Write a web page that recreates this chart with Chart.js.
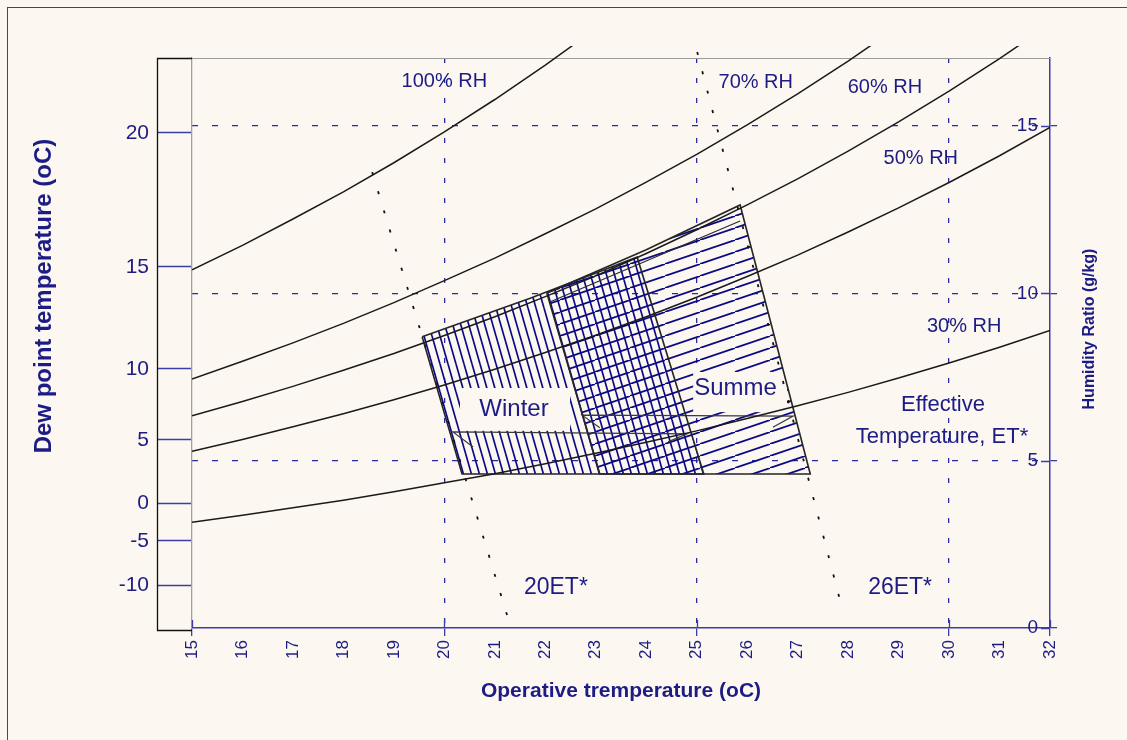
<!DOCTYPE html>
<html>
<head>
<meta charset="utf-8">
<title>Comfort zones</title>
<script src="https://cdn.jsdelivr.net/npm/chart.js@4.4.1/dist/chart.umd.min.js"></script>
<style>
  html, body { margin: 0; padding: 0; background: #fcf7f0; overflow: hidden; }
  #wrap { position: relative; width: 1127px; height: 740px; }
  #edge { position: absolute; left: 7px; top: 7px; width: 1200px; height: 800px; border: 1px solid #3c3cb0; }
  canvas { position: absolute; left: 0; top: 0; }
</style>
</head>
<body>
<div id="wrap">
  <div id="edge"></div>
  <canvas id="psy" width="1127" height="740"></canvas>
</div>
<script>
// operative temperature (oC), one sample per degree
const temps = [15, 16, 17, 18, 19, 20, 21, 22, 23, 24, 25, 26, 27, 28, 29, 30, 31, 32];

// humidity ratio (g/kg) along the relative humidity curves
const rh100 = [10.70, 11.43, 12.22, 13.03, 13.90, 14.82, 15.79, 16.82, 17.90, null, null, null, null, null, null, null, null, null];
const rh70 = [7.44, 7.97, 8.52, 9.10, 9.72, 10.38, 11.05, 11.78, 12.52, 13.32, 14.15, 15.03, 15.96, 16.94, 17.97, null, null, null];
const rh60 = [6.34, 6.77, 7.22, 7.70, 8.20, 8.74, 9.30, 9.90, 10.52, 11.19, 11.90, 12.64, 13.42, 14.25, 15.12, 16.04, 17.01, 18.04];
const rh50 = [5.28, 5.63, 6.01, 6.40, 6.82, 7.26, 7.73, 8.23, 8.75, 9.30, 9.88, 10.50, 11.14, 11.83, 12.55, 13.31, 14.11, 14.96];
const rh30 = [3.16, 3.37, 3.59, 3.82, 4.07, 4.34, 4.61, 4.91, 5.22, 5.55, 5.89, 6.26, 6.64, 7.04, 7.47, 7.92, 8.39, 8.89];

// dew point scale on the left, placed at its humidity ratio
const dewTickW = [14.79, 10.79, 7.74, 5.62, 3.73, 2.60, 1.28];
const dewTickLabels = ['20', '15', '10', '5', '0', '-5', '-10'];

const ratioTicks = [0, 5, 10, 15];
const tempGridLines = [20, 25, 30];
const tempMajorTicks = [15, 20, 25, 30, 32];

// comfort zones, corners as (T, W), closed
const winterT = [19.56, 21.7, 23.82, 25.14, 20.35, 19.56];
const winterW = [8.70, 9.85, 11.08, 4.60, 4.60, 8.70];
const summerT = [22.03, 24.0, 25.86, 27.25, 23.08, 22.03];
const summerW = [10.01, 11.3, 12.64, 4.60, 4.60, 10.01];

// effective temperature lines
const et20T = [18.57, 21.32];
const et20W = [13.62, 0];
const et26T = [25.01, 27.90];
const et26W = [17.21, 0.48];

// inner lines of the zones
const summerInnerT = [22.09, 25.86];
const summerInnerW = [9.74, 12.16];
const winterArrowT = [20.57, 20.17, 24.81, 24.43];
const winterArrowW = [5.41, 5.86, 5.80, 5.56];
const summerArrowT = [23.08, 22.73, 26.91, 26.51];
const summerArrowW = [5.98, 6.36, 6.33, 6.00];

// curve names
const rhNames = ['100% RH', '70% RH', '60% RH', '50% RH', '30% RH'];
const rhNameT = [20.00, 26.17, 28.73, 29.44, 30.30];
const rhNameW = [16.34, 16.31, 16.16, 14.04, 9.02];
const etNames = ['20ET*', '26ET*'];
const etNameT = [22.21, 29.03];
const etNameW = [1.22, 1.20];
const noteLines = ['Effective', 'Temperature, ET*'];
const noteT = [29.88, 29.86];
const noteW = [6.66, 5.71];

// zone names with the blank panel behind them
const zoneNames = ['Winter', 'Summe'];
const zoneNameT = [21.38, 25.77];
const zoneNameW = [6.54, 7.17];
const zoneBoxT = [[20.31, 22.49], [24.93, 26.79]];
const zoneBoxW = [[7.17, 5.89], [7.65, 6.45]];

const FONT = '"Liberation Sans", Arial, sans-serif';
const NAVY = '#1c1c84';
const AXIS = '#3d3da8';
const GRID = '#2a2a9e';
const INK = '#1a1a1a';
const PAPER = '#fcf7f0';
const CLEAR = 'rgba(0,0,0,0)';
const STRIP = 35; // width of the dew point strip

const pts = (xs, ys) => xs.map((x, i) => ({ x, y: ys[i] })).filter(p => p.y !== null);

function hatch(w, h, rising) {
  const c = document.createElement('canvas');
  c.width = w;
  c.height = h;
  const g = c.getContext('2d');
  g.strokeStyle = '#0a0a84';
  g.lineWidth = 1.7;
  for (const dx of [-w, 0, w]) {
    g.beginPath();
    if (rising) {
      g.moveTo(dx, h);
      g.lineTo(dx + w, 0);
    } else {
      g.moveTo(dx, 0);
      g.lineTo(dx + w, h);
    }
    g.stroke();
  }
  return g.createPattern(c, 'repeat');
}

const line = (data, extra) => Object.assign({
  data,
  borderColor: INK,
  borderWidth: 1.5,
  pointRadius: 0,
  fill: false,
  tension: 0,
  clip: { left: 0, top: 12, right: 0, bottom: 0 }
}, extra);

const decorations = {
  id: 'decorations',
  beforeDatasetsDraw(chart) {
    const { ctx, chartArea: a, scales: { x, y } } = chart;
    const stripLeft = a.left - STRIP + 0.5;
    ctx.save();
    // dew point strip
    ctx.strokeStyle = '#111';
    ctx.lineWidth = 1.3;
    ctx.beginPath();
    ctx.moveTo(a.left, a.top + 0.5);
    ctx.lineTo(stripLeft, a.top + 0.5);
    ctx.lineTo(stripLeft, a.bottom + 2.5);
    ctx.lineTo(a.left, a.bottom + 2.5);
    ctx.stroke();
    // top edge of the plot
    ctx.strokeStyle = '#9b9b9b';
    ctx.lineWidth = 1.2;
    ctx.beginPath();
    ctx.moveTo(a.left, a.top + 0.5);
    ctx.lineTo(a.right, a.top + 0.5);
    ctx.stroke();
    // tick marks reaching inside
    ctx.strokeStyle = AXIS;
    ctx.lineWidth = 1.3;
    ctx.beginPath();
    ratioTicks.forEach(v => {
      const py = Math.round(y.getPixelForValue(v)) + 0.5;
      ctx.moveTo(a.right - 9, py);
      ctx.lineTo(a.right, py);
    });
    tempMajorTicks.forEach(v => {
      const px = Math.round(x.getPixelForValue(v)) + 0.5;
      ctx.moveTo(px, a.bottom - 8);
      ctx.lineTo(px, a.bottom);
    });
    ctx.stroke();
    ctx.restore();
  },
  afterDatasetDraw(chart, args) {
    if (chart.data.datasets[args.index].label !== 'summer hatch') return;
    const { ctx, scales: { x, y } } = chart;
    ctx.save();
    ctx.fillStyle = PAPER;
    zoneBoxT.forEach((bt, i) => {
      const x0 = x.getPixelForValue(bt[0]);
      const x1 = x.getPixelForValue(bt[1]);
      const y0 = y.getPixelForValue(zoneBoxW[i][0]);
      const y1 = y.getPixelForValue(zoneBoxW[i][1]);
      ctx.fillRect(x0, y0, x1 - x0, y1 - y0);
    });
    ctx.restore();
  },
  afterDatasetsDraw(chart) {
    const { ctx, chartArea: a, scales: { x, y } } = chart;
    const put = (text, t, w, size) => {
      ctx.font = size + 'px ' + FONT;
      ctx.fillText(text, x.getPixelForValue(t), y.getPixelForValue(w));
    };
    ctx.save();
    ctx.fillStyle = NAVY;
    ctx.textAlign = 'center';
    ctx.textBaseline = 'middle';
    rhNames.forEach((s, i) => put(s, rhNameT[i], rhNameW[i], 20));
    etNames.forEach((s, i) => put(s, etNameT[i], etNameW[i], 23));
    noteLines.forEach((s, i) => put(s, noteT[i], noteW[i], 22));
    zoneNames.forEach((s, i) => put(s, zoneNameT[i], zoneNameW[i], 24));

    // axis titles
    ctx.font = 'bold 21px ' + FONT;
    ctx.fillText('Operative tremperature (oC)', (a.left + a.right) / 2, a.bottom + 63);

    ctx.save();
    ctx.translate(44, a.top + 238);
    ctx.rotate(-Math.PI / 2);
    ctx.font = 'bold 24px ' + FONT;
    ctx.fillText('Dew point temperature (oC)', 0, 0);
    ctx.restore();

    ctx.save();
    ctx.translate(a.right + 40, a.top + 271);
    ctx.rotate(-Math.PI / 2);
    ctx.font = 'bold 16px ' + FONT;
    ctx.fillText('Humidity Ratio (g/kg)', 0, 0);
    ctx.restore();
    ctx.restore();
  }
};

new Chart(document.getElementById('psy'), {
  type: 'line',
  data: {
    datasets: [
      line(pts(temps, rh100)),
      line(pts(temps, rh70)),
      line(pts(temps, rh60)),
      line(pts(temps, rh50)),
      line(pts(temps, rh30)),
      line(pts(winterT, winterW), { label: 'winter hatch', borderColor: CLEAR, backgroundColor: hatch(8, 28, false), fill: 'shape', order: 6 }),
      line(pts(summerT, summerW), { label: 'summer hatch', borderColor: CLEAR, backgroundColor: hatch(35, 12, true), fill: 'shape', order: 5 }),
      line(pts(winterT, winterW), { borderColor: '#262626', borderWidth: 1.6 }),
      line(pts(summerT, summerW), { borderColor: '#262626', borderWidth: 1.6 }),
      line(pts(summerInnerT, summerInnerW), { borderColor: '#2a2a2a', borderWidth: 1.2 }),
      line(pts(winterArrowT, winterArrowW), { borderColor: '#3a3a3a', borderWidth: 1.2 }),
      line(pts(summerArrowT, summerArrowW), { borderColor: '#3a3a3a', borderWidth: 1.2 }),
      line(pts(et20T, et20W), { borderWidth: 1.8, borderDash: [3, 17], borderColor: '#111' }),
      line(pts(et26T, et26W), { borderWidth: 1.8, borderDash: [3, 17], borderColor: '#111' })
    ]
  },
  options: {
    responsive: false,
    devicePixelRatio: 1,
    animation: false,
    events: [],
    layout: { padding: { left: 112, right: 70, top: 58, bottom: 72 } },
    plugins: { legend: { display: false }, tooltip: { enabled: false } },
    scales: {
      x: {
        type: 'linear',
        position: 'bottom',
        min: 15,
        max: 32,
        afterFit: s => { s.height = 40; },
        ticks: {
          stepSize: 1,
          autoSkip: false,
          minRotation: 90,
          maxRotation: 90,
          padding: 4,
          color: NAVY,
          font: { family: FONT, size: 17 }
        },
        grid: {
          color: c => (c.tick && tempGridLines.includes(c.tick.value)) ? GRID : CLEAR,
          tickColor: c => (c.tick && tempMajorTicks.includes(c.tick.value)) ? AXIS : CLEAR,
          lineWidth: 1.3,
          tickWidth: 1.3,
          tickLength: 8,
          tickBorderDash: []
        },
        border: { color: AXIS, width: 1.5, dash: [5, 15] }
      },
      y: {
        type: 'linear',
        position: 'right',
        min: 0,
        max: 17.03,
        afterFit: s => { s.width = 7; },
        afterBuildTicks: s => { s.ticks = ratioTicks.map(v => ({ value: v })); },
        ticks: {
          mirror: true,
          padding: -12,
          color: NAVY,
          font: { family: FONT, size: 19 }
        },
        grid: {
          color: c => (c.tick && c.tick.value > 0) ? GRID : CLEAR,
          tickColor: AXIS,
          lineWidth: 1.3,
          tickWidth: 1.3,
          tickLength: 7,
          tickBorderDash: []
        },
        border: { color: AXIS, width: 1.5, dash: [6, 14] }
      },
      yDew: {
        type: 'linear',
        position: 'left',
        min: 0,
        max: 17.03,
        afterFit: s => { s.width = 80; },
        afterBuildTicks: s => { s.ticks = dewTickW.map(v => ({ value: v })); },
        ticks: {
          autoSkip: false,
          padding: 8,
          color: NAVY,
          font: { family: FONT, size: 21 },
          callback: (v, i) => dewTickLabels[i]
        },
        grid: {
          drawOnChartArea: false,
          color: AXIS,
          tickLength: STRIP,
          tickWidth: 1.3,
          tickBorderDash: []
        },
        border: { color: '#a0a0a0', width: 1.3 }
      }
    }
  },
  plugins: [decorations]
});
</script>
</body>
</html>
